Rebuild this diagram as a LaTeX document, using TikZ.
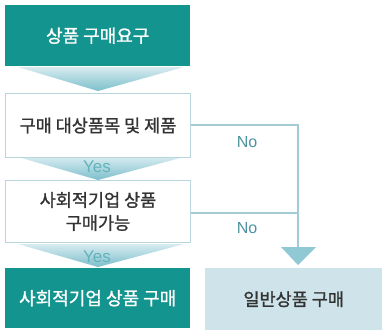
\documentclass[tikz,border=0pt]{standalone}
\usepackage{fontspec}
\newfontfamily\kr[FakeBold=1.2]{Noto Sans CJK KR}
\setmainfont{Liberation Sans}
\definecolor{teal1}{HTML}{13948F}
\definecolor{chevtop}{HTML}{D6EBF0}
\definecolor{chevbot}{HTML}{7CBFCB}
\definecolor{bord}{HTML}{B9D6DC}
\definecolor{conn}{HTML}{A3CBD4}
\definecolor{notext}{HTML}{4E93A1}
\definecolor{yestext}{HTML}{63B3BC}
\definecolor{genbox}{HTML}{CFE4EA}
\definecolor{txt}{HTML}{333333}
\begin{document}
\begin{tikzpicture}[x=1pt,y=-1pt,
  tealbox/.style={fill=teal1,draw=none,text=white,font=\kr\fontsize{18}{21}\selectfont,align=center,minimum width=185pt,anchor=north west,inner sep=0pt},
  whitebox/.style={fill=white,draw=bord,line width=1pt,text=txt,font=\kr\fontsize{17.5}{23}\selectfont,align=center,minimum width=185pt,anchor=north west,inner sep=0pt},
  genstyle/.style={fill=genbox,draw=none,text=txt,font=\kr\fontsize{17.5}{21}\selectfont,minimum width=177pt,anchor=north west,inner sep=0pt},
  conline/.style={draw=conn,line width=1.3pt},
  yeslbl/.style={text=yestext,font=\fontsize{17}{19}\selectfont},
  nolbl/.style={text=notext,font=\fontsize{16}{18}\selectfont}]
\useasboundingbox (0,0) rectangle (382,333);
\fill[white] (0,0) rectangle (382,333);
% chevrons
\shade[top color=chevtop,bottom color=chevbot] (18,67) -- (184,67) -- (98,91) -- cycle;
\shade[top color=chevtop,bottom color=chevbot] (18,157) -- (184,157) -- (98,180) -- cycle;
\shade[top color=chevtop,bottom color=chevbot] (18,244) -- (184,244) -- (98,267) -- cycle;
% boxes
\node[tealbox,minimum height=61pt] (req) at (5,5) {상품 구매요구};
\node[whitebox,minimum height=64pt] (target) at (5,93) {구매 대상품목 및 제품};
\node[whitebox,minimum height=62pt] (avail) at (5,180) {사회적기업 상품\\구매가능};
\node[tealbox,minimum height=60pt] (buy) at (5,268) {사회적기업 상품 구매};
\node[genstyle,minimum height=62pt] (gen) at (205,268) {일반상품 구매};
% yes labels
\node[yeslbl] (y1) at (97,167) {Yes};
\node[yeslbl] (y2) at (97,257) {Yes};
% connectors
\coordinate (c1) at (298,125);
\coordinate (c2) at (298,213);
\coordinate (tip) at (298,265);
\draw[conline] (target.east |- c1) -- (c1) -- (298,248);
\draw[conline] (avail.east |- c2) -- (c2);
\fill[chevbot!85!white] (281,247) -- (316,247) -- (tip) -- cycle;
\node[nolbl] (n1) at (247,142) {No};
\node[nolbl] (n2) at (247,228) {No};
\end{tikzpicture}
\end{document}
